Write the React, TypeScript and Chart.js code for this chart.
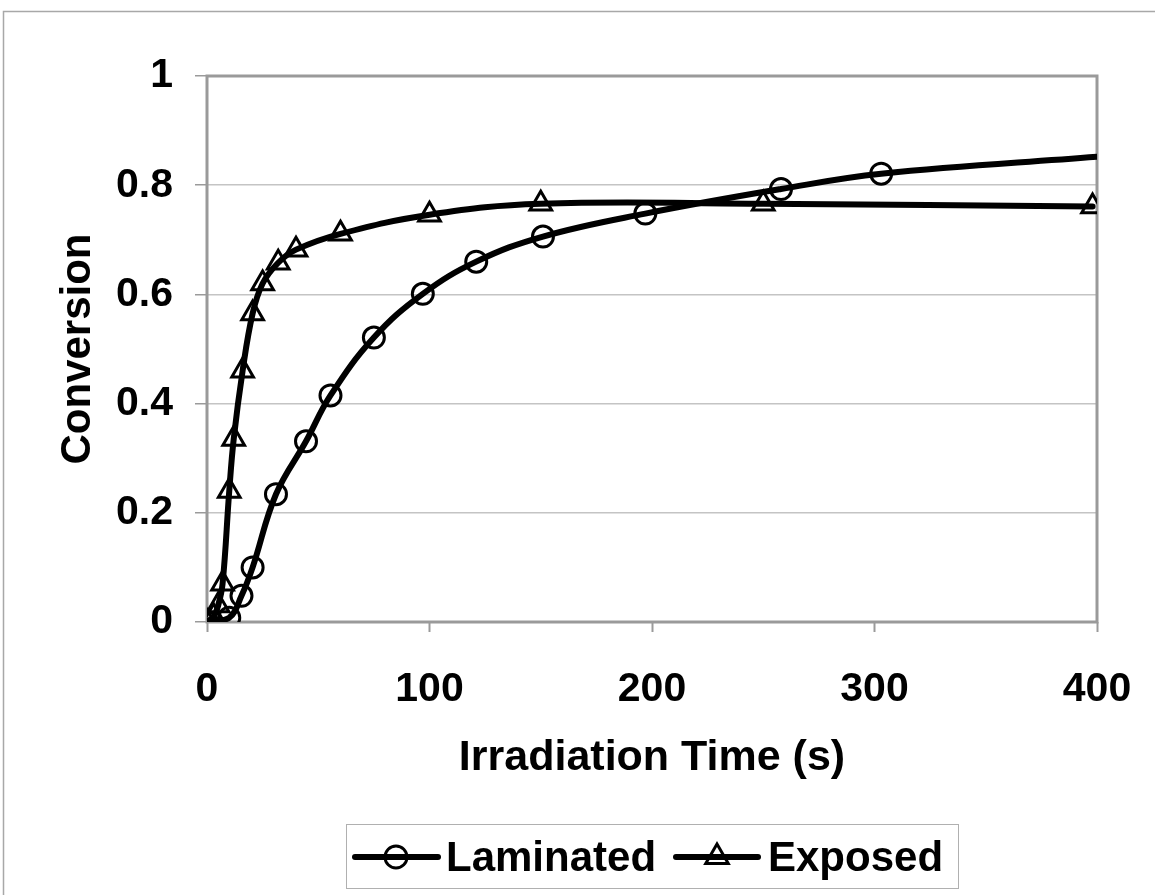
import React, { useEffect, useRef } from 'react';
import { Chart, registerables } from 'chart.js';

Chart.register(...registerables);

// ---- data ----
const seriesNames = ['Laminated', 'Exposed'];
const lamTime = [0, 10, 15.5, 20.5, 31, 44.5, 55.5, 75, 97, 121, 151, 197, 258, 303, 400];
const lamConv = [0, 0.008, 0.048, 0.1, 0.234, 0.331, 0.415, 0.521, 0.601, 0.66, 0.706, 0.748, 0.793, 0.821, 0.852];
const expTime = [0, 3, 5, 7, 10, 12, 16, 20.5, 25, 32, 40, 60, 100, 150, 250, 398];
const expConv = [0, 0.01, 0.03, 0.07, 0.24, 0.335, 0.46, 0.565, 0.62, 0.658, 0.682, 0.711, 0.746, 0.766, 0.766, 0.761];
const xTicks = [0, 100, 200, 300, 400];
const yTicks = [0, 0.2, 0.4, 0.6, 0.8, 1];
const xTitle = 'Irradiation Time (s)';
const yTitle = 'Conversion';

const FONT = '"Liberation Sans", Arial, Helvetica, sans-serif';
const GRID = '#c4c4c4';
const AXIS = '#9a9a9a';

const frameAndBorder = {
  id: 'frameAndBorder',
  beforeDraw(chart: any) {
    const { ctx } = chart;
    ctx.save();
    ctx.fillStyle = '#ffffff';
    ctx.fillRect(0, 0, chart.width, chart.height);
    ctx.strokeStyle = '#a8a8a8';
    ctx.lineWidth = 1.5;
    ctx.beginPath();
    ctx.moveTo(3.5, chart.height + 10);
    ctx.lineTo(3.5, 11.5);
    ctx.lineTo(chart.width + 10, 11.5);
    ctx.stroke();
    ctx.restore();
  },
  beforeDatasetsDraw(chart: any) {
    const { ctx, chartArea: a } = chart;
    ctx.save();
    ctx.strokeStyle = AXIS;
    ctx.lineWidth = 3;
    ctx.strokeRect(a.left, a.top, a.right - a.left, a.bottom - a.top);
    ctx.restore();
  },
};

const legendPlugin = {
  id: 'customLegend',
  afterDraw(chart: any) {
    const { ctx } = chart;
    const boxX = 346.5, boxY = 824.5, boxW = 612, boxH = 64;
    const cy = 857;
    ctx.save();
    ctx.strokeStyle = '#b0b0b0';
    ctx.lineWidth = 1;
    ctx.strokeRect(boxX, boxY, boxW, boxH);
    ctx.font = `bold 42px ${FONT}`;
    ctx.textBaseline = 'middle';
    ctx.textAlign = 'left';
    const items = [
      { x0: 355, x1: 438, mx: 396, text: seriesNames[0], tx: 446, style: 'circle' },
      { x0: 676, x1: 758, mx: 717, text: seriesNames[1], tx: 768, style: 'triangle' },
    ];
    for (const it of items) {
      ctx.strokeStyle = '#000';
      ctx.lineWidth = 6;
      ctx.lineCap = 'round';
      ctx.beginPath();
      ctx.moveTo(it.x0, cy);
      ctx.lineTo(it.x1, cy);
      ctx.stroke();
      ctx.lineWidth = 3;
      ctx.beginPath();
      if (it.style === 'circle') {
        ctx.arc(it.mx, cy, 11, 0, Math.PI * 2);
      } else {
        const r = 13;
        ctx.moveTo(it.mx, cy - r);
        ctx.lineTo(it.mx + r * Math.sin((2 * Math.PI) / 3), cy + r / 2);
        ctx.lineTo(it.mx - r * Math.sin((2 * Math.PI) / 3), cy + r / 2);
        ctx.closePath();
      }
      ctx.stroke();
      ctx.fillStyle = '#000';
      ctx.fillText(it.text, it.tx, cy + 2);
    }
    ctx.restore();
  },
};

export default function App() {
  const canvasRef = useRef<HTMLCanvasElement | null>(null);

  useEffect(() => {
    const canvas = canvasRef.current;
    if (!canvas) return;
    const lamData = lamTime.map((t, i) => ({ x: t, y: lamConv[i] }));
    const expData = expTime.map((t, i) => ({ x: t, y: expConv[i] }));
    const lastLam = lamData.length - 1;

    const chart = new Chart(canvas, {
      type: 'line',
      data: {
        datasets: [
          {
            label: seriesNames[0],
            data: lamData,
            borderColor: '#000',
            borderWidth: 6,
            borderCapStyle: 'round',
            tension: 0.4,
            pointStyle: 'circle',
            pointRadius: (c: any) => (c.dataIndex === lastLam ? 0 : 10.5),
            pointBorderWidth: 3,
            pointBorderColor: '#000',
            pointBackgroundColor: 'rgba(255,255,255,0)',
            fill: false,
          },
          {
            label: seriesNames[1],
            data: expData,
            borderColor: '#000',
            borderWidth: 6,
            borderCapStyle: 'round',
            tension: 0.4,
            pointStyle: 'triangle',
            pointRadius: 12.5,
            pointBorderWidth: 3,
            pointBorderColor: '#000',
            pointBackgroundColor: 'rgba(255,255,255,0)',
            fill: false,
          },
        ],
      },
      options: {
        responsive: false,
        animation: false,
        devicePixelRatio: 1,
        layout: { padding: { left: 0, right: 58, top: 76, bottom: 111 } },
        plugins: {
          legend: { display: false },
          tooltip: { enabled: false },
        },
        scales: {
          x: {
            type: 'linear',
            min: 0,
            max: 400,
            afterFit: (s: any) => {
              s.height = 162;
              s.paddingLeft = 0;
              s.paddingRight = 0;
            },
            afterBuildTicks: (s: any) => { s.ticks = xTicks.map((v) => ({ value: v })); },
            border: { display: false },
            grid: {
              drawOnChartArea: false,
              drawTicks: true,
              tickLength: 10,
              tickColor: AXIS,
              tickWidth: 2,
            },
            ticks: {
              color: '#000',
              font: { family: FONT, size: 41, weight: 'bold' },
              padding: 33,
              maxRotation: 0,
              callback: (v: any) => String(v),
            },
            title: {
              display: true,
              text: xTitle,
              color: '#000',
              font: { family: FONT, size: 43, weight: 'bold' },
              padding: { top: 0, bottom: 0 },
            },
          },
          y: {
            type: 'linear',
            min: 0,
            max: 1,
            afterFit: (s: any) => { s.width = 207; },
            afterBuildTicks: (s: any) => { s.ticks = yTicks.map((v) => ({ value: v })); },
            border: { display: false },
            grid: {
              color: (c: any) => (c.tick && (c.tick.value === 0 || c.tick.value === 1) ? 'rgba(0,0,0,0)' : GRID),
              lineWidth: 1.5,
              drawTicks: true,
              tickLength: 12,
              tickColor: AXIS,
              tickWidth: 1.5,
            },
            ticks: {
              color: '#000',
              font: { family: FONT, size: 41, weight: 'bold' },
              padding: 22,
              callback: (v: any) => String(Number(Number(v).toFixed(1))),
            },
            title: {
              display: true,
              text: yTitle,
              color: '#000',
              font: { family: FONT, size: 42, weight: 'bold' },
              padding: { top: 53, bottom: 0 },
            },
          },
        },
      } as any,
      plugins: [frameAndBorder, legendPlugin],
    });
    return () => chart.destroy();
  }, []);

  return (
    <div style={{ position: 'fixed', left: 0, top: 0, width: 1155, height: 895, background: '#fff' }}>
      <canvas ref={canvasRef} width={1155} height={895} style={{ display: 'block', width: 1155, height: 895 }} />
    </div>
  );
}
